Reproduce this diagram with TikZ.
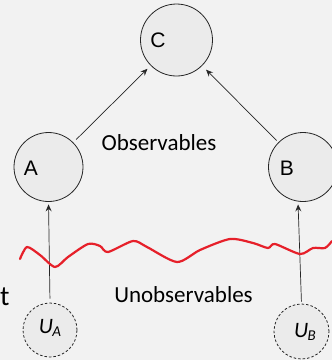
\documentclass[tikz,border=0pt]{standalone}
\usepackage{fontspec}
\setmainfont{Carlito}
\newfontfamily\arialf{Liberation Sans}
\usetikzlibrary{arrows.meta}
\definecolor{bgc}{HTML}{F2F2F2}
\definecolor{nodefill}{HTML}{EBEBEB}
\definecolor{wave}{HTML}{E6202A}
\tikzset{
  obsnode/.style={circle, draw=black!85, fill=nodefill, line width=0.8pt, inner sep=0pt},
  latnode/.style={circle, draw=black!85, fill=nodefill, line width=0.8pt, dashed, dash pattern=on 2.5pt off 2pt, inner sep=0pt},
  lbl/.style={font=\arialf\fontsize{21}{24}\selectfont, inner sep=0pt},
  txt/.style={font=\fontsize{23}{26}\selectfont, inner sep=0pt},
  arr/.style={-{Stealth[length=7pt,width=6pt,inset=2.5pt]}, line width=0.7pt, black!85},
}
\begin{document}
\begin{tikzpicture}[x=1pt,y=-1pt]
\useasboundingbox (0,0) rectangle (332,360);
\fill[bgc] (0,0) rectangle (332,360);
\begin{scope}
\clip (0,0) rectangle (332,360);
\node[obsnode, minimum size=72pt] (C) at (176.5,40) {};
\node[obsnode, minimum size=69pt] (A) at (48.5,167) {};
\node[obsnode, minimum size=69pt] (B) at (303,167) {};
\node[latnode, minimum size=54pt] (UA) at (50,330) {};
\node[latnode, minimum size=55pt] (UB) at (301.5,331.5) {};
\end{scope}
\node[lbl] (Ct) at (158,40) {C};
\node[lbl] (At) at (31,168) {A};
\node[lbl] (Bt) at (287,168) {B};
\node[font=\fontsize{22}{24}\selectfont\itshape, inner sep=0pt] (UAt) at (50,328) {U\kern-0.5pt\raisebox{-2.5pt}{\fontsize{15}{16}\selectfont A}};
\node[font=\fontsize{22}{24}\selectfont\itshape, inner sep=0pt] (UBt) at (305,332) {U\kern-0.5pt\raisebox{-2.5pt}{\fontsize{15}{16}\selectfont B}};
\node[txt] (obs) at (159,143) {Observables};
\node[txt] (unobs) at (183.5,295) {Unobservables};
\node[font=\fontsize{28}{30}\selectfont, inner sep=0pt, anchor=west] (tt) at (0,297) {t};
\draw[arr, shorten <=4pt, shorten >=4.5pt] (A) -- (C);
\draw[arr, shorten <=2.5pt, shorten >=5.5pt] (B) -- (C);
\draw[arr, shorten <=4pt, shorten >=2.5pt] (UA.north) -- (A.south);
\draw[arr, shorten <=2pt, shorten >=2.5pt] (UB.north) -- ([xshift=-5pt]B.south);
\draw[wave, line width=2.2pt, line join=round, line cap=round]
  plot[smooth, tension=0.45] coordinates {
   (20,259) (27,247) (40,255) (55,267) (68,257) (88,244) (100,246) (108,252)
   (133,241) (147,247) (177,262) (200,250) (230,239) (253,243) (268,248)
   (275,244) (300,254) (313,248) (325,248) (332,241)};
\end{tikzpicture}
\end{document}
